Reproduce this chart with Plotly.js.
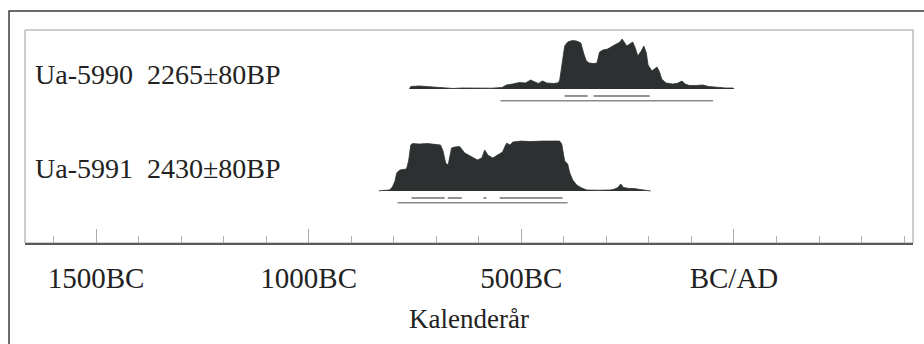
<!DOCTYPE html>
<html>
<head>
<meta charset="utf-8">
<script src="https://cdn.plot.ly/plotly-3.0.1.min.js"></script>
<style>html,body{margin:0;padding:0;background:#fff;}#chart{width:924px;height:344px;}</style>
</head>
<body>
<div id="chart"></div>
<script>
// ---- data (calendar years, negative = BC; relative probability) ----
const years5990 = [-763,-760,-740,-720,-700,-685,-660,-640,-620,-600,-570,-545,-535,-520,-505,-490,-478,-468,-460,-450,-440,-425,-415,-410,-404,-398,-391,-380,-370,-360,-353,-347,-340,-330,-322,-316,-308,-297,-285,-275,-268,-263,-258,-252,-245,-238,-232,-226,-218,-212,-206,-202,-193,-186,-181,-175,-170,-160,-145,-134,-122,-115,-105,-90,-73,-60,-49,-35,-20,-2,0];
const prob5990 = [0,0.05,0.06,0.05,0.04,0.02,0.01,0.02,0.016,0.02,0.016,0.03,0.08,0.10,0.13,0.12,0.18,0.14,0.11,0.16,0.12,0.11,0.12,0.16,0.50,0.86,0.94,0.97,0.96,0.92,0.70,0.56,0.52,0.51,0.52,0.74,0.78,0.80,0.86,0.90,0.94,1.00,0.94,0.86,0.90,0.94,0.82,0.66,0.76,0.86,0.72,0.48,0.36,0.40,0.44,0.34,0.20,0.12,0.10,0.11,0.16,0.10,0.07,0.07,0.08,0.05,0.04,0.03,0.02,0.02,0];
const years5991 = [-835,-829,-810,-803,-797,-793,-786,-775,-770,-765,-760,-756,-740,-720,-700,-690,-684,-678,-672,-664,-657,-645,-633,-617,-603,-593,-586,-579,-567,-556,-544,-538,-534,-527,-520,-500,-480,-450,-420,-410,-405,-398,-391,-386,-379,-370,-358,-346,-320,-290,-280,-273,-266,-260,-245,-235,-221,-205,-198,-196];
const prob5991 = [0,0.01,0.02,0.08,0.20,0.36,0.42,0.43,0.44,0.60,0.92,0.95,0.94,0.95,0.94,0.92,0.80,0.56,0.52,0.86,0.88,0.89,0.76,0.68,0.62,0.66,0.82,0.72,0.66,0.72,0.78,0.90,0.96,0.92,0.98,1.0,0.99,1.0,1.0,1.0,0.94,0.60,0.54,0.36,0.22,0.12,0.06,0.02,0.016,0.02,0.04,0.07,0.14,0.07,0.05,0.05,0.03,0.02,0.01,0];
// 68.2% and 95.4% ranges (start, end)
const r68_5990 = [[-398,-344],[-330,-198]];
const r95_5990 = [[-549,-49]];
const r68_5991 = [[-758,-680],[-673,-640],[-589,-582],[-551,-403]];
const r95_5991 = [[-791,-391]];
const sampleLabels = ["Ua-5990\u00a0\u00a02265±80BP", "Ua-5991\u00a0\u00a02430±80BP"];
const tickVals = [-1500,-1000,-500,0];
const tickText = ["1500BC","1000BC","500BC","BC/AD"];
const xTitle = "Kalenderår";

// ---- helpers ----
function segs(ranges, level){
  const x=[], y=[];
  ranges.forEach(r=>{ x.push(r[0], r[1], null); y.push(level, level, null); });
  return {x, y};
}
const FILL = '#2c3030';
const SERIF = '"Liberation Serif", "Times New Roman", serif';
const L68 = -0.14, L95 = -0.235;

const traces = [];
function addSample(years, prob, r68, r95, ax){
  traces.push({x: years, y: prob, yaxis: ax, type:'scatter', mode:'lines', fill:'tozeroy',
    fillcolor: FILL, line:{color: FILL, width:0.8}, hoverinfo:'skip', showlegend:false});
  const a = segs(r68, L68), b = segs(r95, L95);
  traces.push({x:a.x, y:a.y, yaxis:ax, type:'scatter', mode:'lines', line:{color:'#6f6f6f', width:1.5}, showlegend:false, hoverinfo:'skip'});
  traces.push({x:b.x, y:b.y, yaxis:ax, type:'scatter', mode:'lines', line:{color:'#8a8a8a', width:1.5}, showlegend:false, hoverinfo:'skip'});
}
addSample(years5990, prob5990, r68_5990, r95_5990, 'y2');
addSample(years5991, prob5991, r68_5991, r95_5991, 'y');

const layout = {
  width: 924, height: 344,
  margin: {l:25, r:11, t:30, b:101},
  paper_bgcolor:'#ffffff', plot_bgcolor:'#ffffff',
  showlegend:false,
  xaxis: {
    anchor:'free', position:0,
    range: [-1667, 421],
    tickmode:'array', tickvals: tickVals, ticktext: tickText,
    ticks:'inside', ticklen:14, tickwidth:1, tickcolor:'#aaaaaa',
    minor: {tickmode:'linear', tick0:0, dtick:100, ticks:'inside', ticklen:7, tickwidth:1, tickcolor:'#b0b0b0', showgrid:false},
    showline:true, linecolor:'#5a5a5a', linewidth:1.5,
    showgrid:false, zeroline:false,
    tickfont:{family:SERIF, size:29, color:'#222'},
    ticklabelstandoff: 9,
    title:{text:xTitle, font:{family:SERIF, size:27, color:'#222'}, standoff:16}
  },
  yaxis: {domain:[0.155,0.502], range:[-0.38,1.10], visible:false, fixedrange:true},
  yaxis2: {domain:[0.634,0.981], range:[-0.38,1.10], visible:false, fixedrange:true},
  shapes: [
    {type:'rect', xref:'paper', yref:'paper', x0:0, x1:1, y0:0, y1:1, line:{color:'#9a9a9a', width:1}, layer:'below'},
    {type:'rect', xref:'paper', yref:'paper', x0:-0.018, x1:1.04, y0:-0.6, y1:1.089, line:{color:'#3a3a3a', width:1.5}, layer:'below'}
  ],
  annotations: [
    {xref:'paper', yref:'paper', x:0.009, y:0.789, xanchor:'left', yanchor:'middle', showarrow:false, text:sampleLabels[0], font:{family:SERIF, size:28, color:'#222'}},
    {xref:'paper', yref:'paper', x:0.009, y:0.352, xanchor:'left', yanchor:'middle', showarrow:false, text:sampleLabels[1], font:{family:SERIF, size:28, color:'#222'}}
  ]
};
Plotly.newPlot('chart', traces, layout, {staticPlot:true, displayModeBar:false});
</script>
</body>
</html>
